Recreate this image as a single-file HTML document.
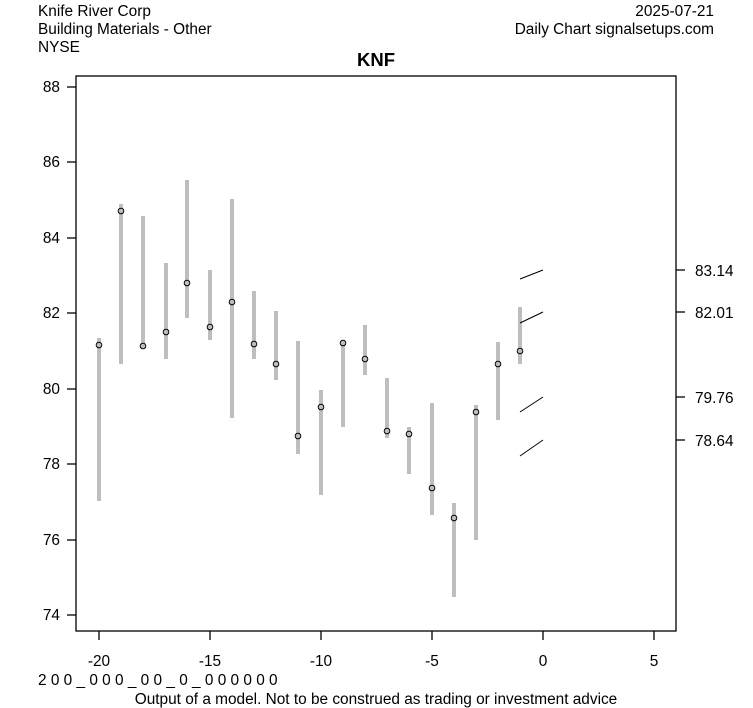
<!DOCTYPE html>
<html><head><meta charset="utf-8"><style>
body{margin:0;background:#fff}
svg{display:block;font-family:"Liberation Sans",Arial,sans-serif}
</style></head><body>
<svg width="753" height="708" viewBox="0 0 753 708" xmlns="http://www.w3.org/2000/svg">
<rect width="753" height="708" fill="#fff"/>
<text x="38" y="16" font-size="15.4">Knife River Corp</text>
<text x="38" y="34" font-size="15.4">Building Materials - Other</text>
<text x="38" y="52" font-size="15.4">NYSE</text>
<text x="714" y="16" font-size="15.4" text-anchor="end">2025-07-21</text>
<text x="714" y="34" font-size="15.4" text-anchor="end">Daily Chart signalsetups.com</text>
<text x="376" y="66" font-size="18.5" font-weight="bold" text-anchor="middle">KNF</text>
<rect x="76" y="76" width="600" height="555" fill="none" stroke="#000" stroke-width="1.3"/>
<g stroke="#000" stroke-width="1.3">
<line x1="67" y1="87" x2="76" y2="87"/><line x1="67" y1="162" x2="76" y2="162"/><line x1="67" y1="238" x2="76" y2="238"/><line x1="67" y1="313" x2="76" y2="313"/><line x1="67" y1="389" x2="76" y2="389"/><line x1="67" y1="464" x2="76" y2="464"/><line x1="67" y1="540" x2="76" y2="540"/><line x1="67" y1="615" x2="76" y2="615"/>
<line x1="99" y1="631" x2="99" y2="640"/><line x1="210" y1="631" x2="210" y2="640"/><line x1="321" y1="631" x2="321" y2="640"/><line x1="432" y1="631" x2="432" y2="640"/><line x1="543" y1="631" x2="543" y2="640"/><line x1="654" y1="631" x2="654" y2="640"/>
<line x1="676" y1="270" x2="685" y2="270"/><line x1="676" y1="312" x2="685" y2="312"/><line x1="676" y1="397" x2="685" y2="397"/><line x1="676" y1="440" x2="685" y2="440"/>
</g>
<g font-size="15.4" text-anchor="end">
<text x="60" y="92">88</text><text x="60" y="167">86</text><text x="60" y="243">84</text><text x="60" y="318">82</text><text x="60" y="394">80</text><text x="60" y="469">78</text><text x="60" y="545">76</text><text x="60" y="620">74</text>
</g>
<g font-size="15.4" text-anchor="middle">
<text x="99" y="666">-20</text><text x="210" y="666">-15</text><text x="321" y="666">-10</text><text x="432" y="666">-5</text><text x="543" y="666">0</text><text x="654" y="666">5</text>
</g>
<g font-size="15.4">
<text x="695" y="276">83.14</text><text x="695" y="318">82.01</text><text x="695" y="403">79.76</text><text x="695" y="446">78.64</text>
</g>
<text x="38" y="685" font-size="15.4">2 0 0 _ 0 0 0 _ 0 0 _ 0 _ 0 0 0 0 0 0</text>
<text x="376" y="704" font-size="15.4" text-anchor="middle">Output of a model. Not to be construed as trading or investment advice</text>
<g stroke="#bebebe" stroke-width="4">
<line x1="99" y1="338" x2="99" y2="501"/>
<line x1="121" y1="204" x2="121" y2="364"/>
<line x1="143" y1="216" x2="143" y2="348"/>
<line x1="166" y1="263" x2="166" y2="359"/>
<line x1="187" y1="180" x2="187" y2="318"/>
<line x1="210" y1="270" x2="210" y2="340"/>
<line x1="232" y1="199" x2="232" y2="418"/>
<line x1="254" y1="291" x2="254" y2="359"/>
<line x1="276" y1="311" x2="276" y2="380"/>
<line x1="298" y1="341" x2="298" y2="454"/>
<line x1="321" y1="390" x2="321" y2="495"/>
<line x1="343" y1="340" x2="343" y2="427"/>
<line x1="365" y1="325" x2="365" y2="375"/>
<line x1="387" y1="378" x2="387" y2="438"/>
<line x1="409" y1="427" x2="409" y2="474"/>
<line x1="432" y1="403" x2="432" y2="515"/>
<line x1="454" y1="503" x2="454" y2="597"/>
<line x1="476" y1="405" x2="476" y2="540"/>
<line x1="498" y1="342" x2="498" y2="420"/>
<line x1="520" y1="307" x2="520" y2="364"/>
</g>
<g fill="none" stroke="#000" stroke-width="1">
<circle cx="99" cy="345" r="2.8"/><circle cx="121" cy="211" r="2.8"/><circle cx="143" cy="346" r="2.8"/><circle cx="166" cy="332" r="2.8"/><circle cx="187" cy="283" r="2.8"/><circle cx="210" cy="327" r="2.8"/><circle cx="232" cy="302" r="2.8"/><circle cx="254" cy="344" r="2.8"/><circle cx="276" cy="364" r="2.8"/><circle cx="298" cy="436" r="2.8"/><circle cx="321" cy="407" r="2.8"/><circle cx="343" cy="343" r="2.8"/><circle cx="365" cy="359" r="2.8"/><circle cx="387" cy="431" r="2.8"/><circle cx="409" cy="434" r="2.8"/><circle cx="432" cy="488" r="2.8"/><circle cx="454" cy="518" r="2.8"/><circle cx="476" cy="412" r="2.8"/><circle cx="498" cy="364" r="2.8"/><circle cx="520" cy="351" r="2.8"/>
<line x1="520" y1="279" x2="543" y2="270"/><line x1="520" y1="323" x2="543" y2="312"/><line x1="520" y1="412" x2="543" y2="397"/><line x1="520" y1="456" x2="543" y2="440"/>
</g>
</svg>
</body></html>
